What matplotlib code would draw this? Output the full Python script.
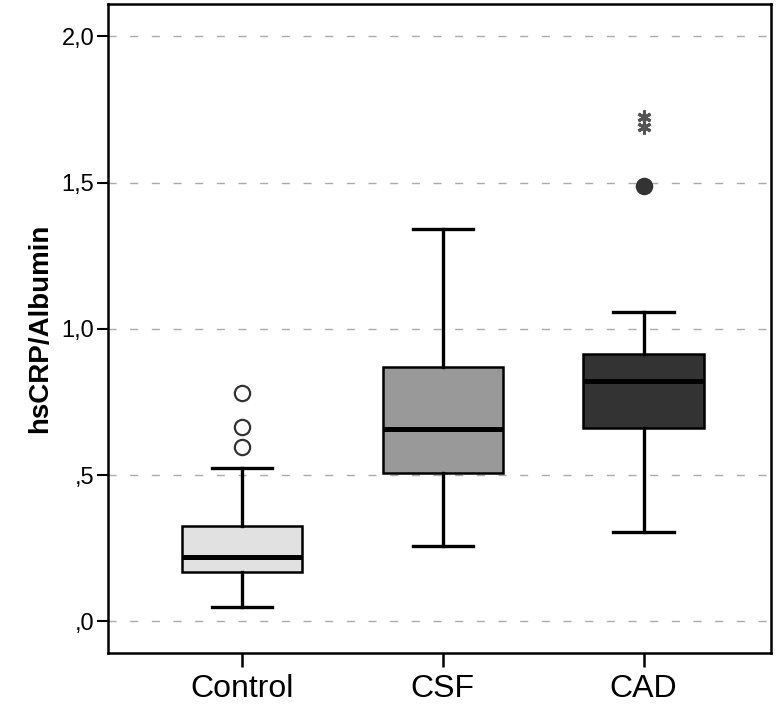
import matplotlib
matplotlib.use('Agg')
import matplotlib.pyplot as plt

# group names and box statistics
groups = ['Control', 'CSF', 'CAD']
whisker_low = [0.048, 0.257, 0.305]
q1 = [0.168, 0.507, 0.661]
medians = [0.219, 0.658, 0.822]
q3 = [0.325, 0.870, 0.914]
whisker_high = [0.524, 1.342, 1.058]
outliers = [[0.596, 0.664, 0.781], [], [1.490]]
extremes = [[], [], [1.692, 1.726]]

fills = ['#e1e1e1', '#999999', '#333333']
flier_faces = ['white', 'white', '#333333']

yticks = [0.0, 0.5, 1.0, 1.5, 2.0]
ytick_labels = [',0', ',5', '1,0', '1,5', '2,0']

plt.rcParams['font.family'] = ['Liberation Sans', 'DejaVu Sans']

fig = plt.figure(figsize=(7.8, 7.06), dpi=100)
ax = fig.add_axes([0.1385, 0.0751, 0.8500, 0.9192])

positions = [1, 2, 3]
stats = []
for i in range(len(groups)):
    stats.append({'label': groups[i], 'whislo': whisker_low[i], 'q1': q1[i],
                  'med': medians[i], 'q3': q3[i], 'whishi': whisker_high[i],
                  'fliers': []})

bp = ax.bxp(stats, positions=positions, widths=0.6, capwidths=0.3,
            patch_artist=True, showfliers=False,
            boxprops=dict(linewidth=1.8, edgecolor='black'),
            whiskerprops=dict(linewidth=2.4, color='black'),
            capprops=dict(linewidth=2.4, color='black'),
            medianprops=dict(linewidth=3.6, color='black'),
            zorder=3)
for patch, c in zip(bp['boxes'], fills):
    patch.set_facecolor(c)

# outliers (circles) and extreme values (asterisks)
for i, p in enumerate(positions):
    if outliers[i]:
        ax.plot([p] * len(outliers[i]), outliers[i], linestyle='none', marker='o',
                markersize=11, markerfacecolor=flier_faces[i],
                markeredgecolor='#333333', markeredgewidth=1.6, zorder=4)
    if extremes[i]:
        ax.plot([p] * len(extremes[i]), extremes[i], linestyle='none',
                marker=(6, 2, 0), markersize=10, markeredgecolor='#555555',
                markeredgewidth=2.2, zorder=4)

ax.set_xlim(0.333, 3.635)
ax.set_ylim(-0.108, 2.111)
ax.set_yticks(yticks)
ax.set_yticklabels(ytick_labels)
ax.set_xticks(positions)
ax.set_xticklabels(groups)

ax.yaxis.grid(True, color='#aaaaaa', linewidth=1.0, linestyle=(0, (5.8, 9.8)))
ax.set_axisbelow(True)

ax.tick_params(axis='y', length=8, width=1.5, labelsize=17, colors='black', pad=2)
ax.tick_params(axis='x', length=10, width=1.8, labelsize=23, pad=5)
for s in ax.spines.values():
    s.set_linewidth(1.8)

ax.set_ylabel('hsCRP/Albumin', fontsize=20, fontweight='bold', labelpad=6)

fig.savefig('out.png', dpi=100)
